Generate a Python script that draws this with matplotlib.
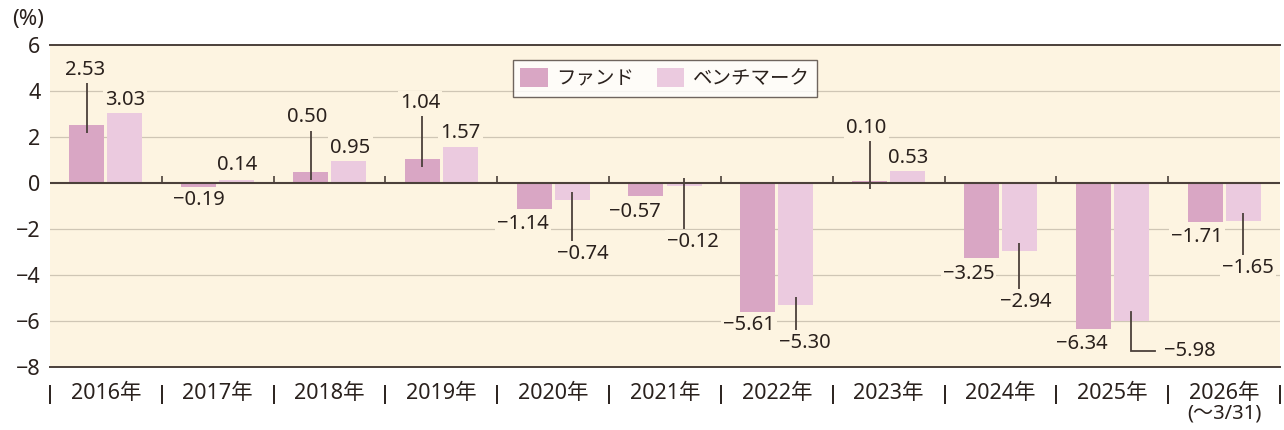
import matplotlib
matplotlib.use("Agg")
import matplotlib.pyplot as plt
from matplotlib.patches import Patch
from matplotlib.transforms import offset_copy
import numpy as np

plt.rcParams['font.family'] = ['Noto Sans', 'Noto Sans CJK JP', 'DejaVu Sans']

# ---- data ----
years = ["2016年", "2017年", "2018年", "2019年", "2020年", "2021年",
         "2022年", "2023年", "2024年", "2025年", "2026年"]
year_sub = ["", "", "", "", "", "", "", "", "", "", "(～3/31)"]
fund = [2.53, -0.19, 0.50, 1.04, -1.14, -0.57, -5.61, 0.10, -3.25, -6.34, -1.71]
bench = [3.03, 0.14, 0.95, 1.57, -0.74, -0.12, -5.30, 0.53, -2.94, -5.98, -1.65]
series_names = ["ファンド", "ベンチマーク"]
yticks = [6, 4, 2, 0, -2, -4, -6, -8]

# ---- layout of value labels: (dx px, dy px, leader) ----
fund_lab = [(-2, 55, 'v'), (0, -13, None), (-3, 54, 'v'), (-2, 56, 'v'),
            (-11, -15, None), (-11, -16, None), (-9, -13, None), (-3, 53, 'v'),
            (-13, -16, None), (-11, -15, None), (-8, -15, None)]
bench_lab = [(0, 13, None), (0, 15, None), (2, 13, None), (0, 14, None),
             (11, -54, 'v'), (9, -56, 'v'), (9, -38, 'v'), (0, 13, None),
             (6, -51, 'v'), (59, -30, 'elbow'), (5, -47, 'v')]

BG = "#FDF4E1"
C_FUND = "#D9A6C4"
C_BENCH = "#EBCADF"
TXT = "#2A211D"
DARK = "#4B403A"
GRID = "#CFC6B5"
FS = 14.5
FS_X = 15.5

fig = plt.figure(figsize=(12.84, 4.30), dpi=100)
ax = fig.add_axes([50/1284, 63/430, 1230/1284, 322/430])
ax.set_facecolor(BG)

x = np.arange(len(years))
w = 0.313
off = 0.17
ax.bar(x - off, fund, width=w, color=C_FUND, zorder=3)
ax.bar(x + off, bench, width=w, color=C_BENCH, zorder=3)

ax.set_xlim(-0.5, len(years) - 0.5)
ax.set_ylim(-8, 6)
ax.set_yticks(yticks)
ax.set_yticklabels([("−" + str(-t)) if t < 0 else str(t) for t in yticks],
                   fontsize=FS_X, color=TXT)
ax.tick_params(axis='y', length=0, pad=7)
ax.set_xticks([])

for t in yticks:
    if t in (6, -8, 0):
        continue
    ax.axhline(t, color=GRID, lw=0.9, zorder=1)
ax.axhline(0, color=DARK, lw=1.5, zorder=4)

for s in ['left', 'right']:
    ax.spines[s].set_visible(False)
for s in ['top', 'bottom']:
    ax.spines[s].set_color(DARK)
    ax.spines[s].set_linewidth(1.4)

# small ticks at category boundaries on the zero line
for b in np.arange(0.5, len(years) - 1, 1.0):
    ax.plot([b, b], [0, 0.3], color=DARK, lw=1.2, zorder=4, solid_capstyle='butt')

def fmt(v):
    return ("−%.2f" % -v) if v < 0 else ("%.2f" % v)

bbox = dict(boxstyle="square,pad=0.1", fc=BG, ec="none")
for vals, labs, dx_bar in ((fund, fund_lab, -off), (bench, bench_lab, off)):
    for i, (v, (dx, dy, lead)) in enumerate(zip(vals, labs)):
        bx = i + dx_bar
        ax.annotate(fmt(v), xy=(bx, v), xytext=(dx, dy),
                    textcoords='offset pixels', ha='center', va='center',
                    fontsize=FS, color=TXT, bbox=bbox, zorder=6)
        if lead is None:
            continue
        inset = -0.35 if v >= 0 else 0.35
        sgn = 1 if dy > 0 else -1
        start = (bx, v + inset)
        if lead == 'v':
            tr_end = offset_copy(ax.transData, fig=fig, x=0, y=dy - sgn * 13, units='dots')
            p0 = ax.transData.transform(start)
            p1 = tr_end.transform((bx, v))
            ax.plot([p0[0], p1[0]], [p0[1], p1[1]], transform=None,
                    color=DARK, lw=1.3, zorder=5, solid_capstyle='butt')
        else:
            p0 = ax.transData.transform(start)
            tr_c = offset_copy(ax.transData, fig=fig, x=0, y=dy, units='dots')
            tr_e = offset_copy(ax.transData, fig=fig, x=dx - 35, y=dy, units='dots')
            p1 = tr_c.transform((bx, v))
            p2 = tr_e.transform((bx, v))
            ax.plot([p0[0], p1[0], p2[0]], [p0[1], p1[1], p2[1]], transform=None,
                    color=DARK, lw=1.3, zorder=5, solid_joinstyle='miter')

# category labels with separators
trans = ax.get_xaxis_transform()
for i, (yl, sub) in enumerate(zip(years, year_sub)):
    ax.text(i, -0.081, yl, transform=trans, ha='center', va='center',
            fontsize=FS_X, color=TXT, clip_on=False)
    if sub:
        ax.text(i, -0.145, sub, transform=trans, ha='center', va='center',
                fontsize=FS, color=TXT, clip_on=False)
for b in np.arange(-0.5, len(years), 1.0):
    ax.plot([b, b], [-0.056, -0.115], transform=trans, color=TXT, lw=1.4,
            clip_on=False, solid_capstyle='butt')

fig.text(12/1284, 1 - 20/430, "(%)", fontsize=16, color=TXT, ha='left', va='center')

handles = [Patch(facecolor=C_FUND, edgecolor='none'),
           Patch(facecolor=C_BENCH, edgecolor='none')]
leg = ax.legend(handles, series_names, loc='upper center', bbox_to_anchor=(0.5, 0.953),
                ncol=2, fontsize=14, frameon=True, fancybox=False, borderaxespad=0,
                handlelength=1.4, handleheight=1.15, columnspacing=1.15,
                handletextpad=0.45, borderpad=0.4, labelcolor=TXT)
leg.get_frame().set_edgecolor(DARK)
leg.get_frame().set_linewidth(1.0)
leg.set_zorder(7)

fig.savefig("out.png", dpi=100, facecolor='white')
